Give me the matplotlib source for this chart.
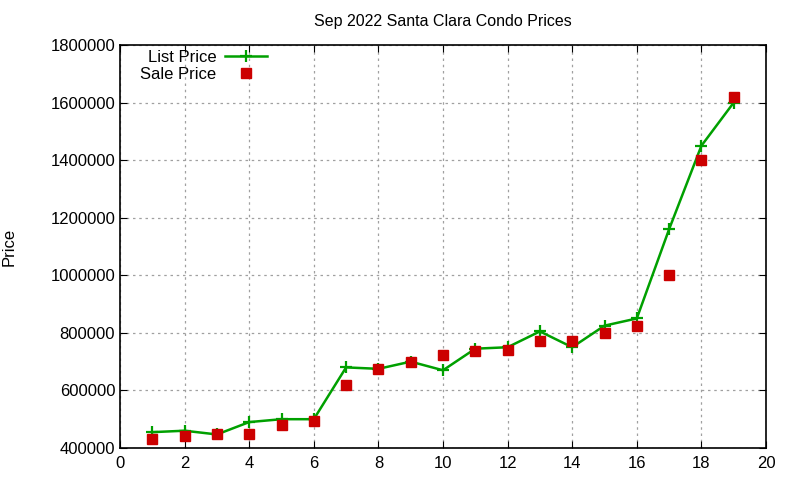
import matplotlib.pyplot as plt
from matplotlib.ticker import MultipleLocator

plt.rcParams['font.family'] = ['Liberation Sans', 'DejaVu Sans']

idx = list(range(1, 20))
list_price = [455000, 460000, 447000, 490000, 500000, 500000, 680000, 675000, 700000, 670000,
              745000, 750000, 805000, 750000, 825000, 850000, 1160000, 1450000, 1600000]
sale_price = [430000, 440000, 448000, 448000, 480000, 495000, 620000, 675000, 700000, 722000,
              738000, 740000, 772000, 773000, 800000, 823000, 1000000, 1402000, 1620000]

fig = plt.figure(figsize=(8, 4.8), dpi=100)
ax = fig.add_axes([0.15, 0.0667, 0.8075, 0.8395])

ax.plot(idx, list_price, color='#00a000', lw=1.8, marker='+', ms=9, mew=1.6, label='List Price')
ax.plot(idx, sale_price, ls='none', color='#cc0000', marker='s', ms=6.5, label='Sale Price')

ax.set_xlim(0, 20)
ax.set_ylim(400000, 1800000)
ax.xaxis.set_major_locator(MultipleLocator(2))
ax.yaxis.set_major_locator(MultipleLocator(200000))
ax.ticklabel_format(style='plain', axis='y')
ax.tick_params(direction='in', top=True, right=True, labelsize=12, length=5)
ax.tick_params(axis='x', pad=6)
ax.grid(True, ls=(0, (2, 3)), color='#a0a0a0', lw=0.9)
for s in ax.spines.values():
    s.set_linewidth(1.2)

ax.set_title('Sep 2022 Santa Clara Condo Prices', fontsize=11.5, pad=14)
ax.set_ylabel('Price', fontsize=12, labelpad=24)

ax.legend(loc='upper left', bbox_to_anchor=(0.011, 1.02), markerfirst=False, frameon=False,
          fontsize=12, handlelength=2.5, handletextpad=0.5, labelspacing=0.1, borderpad=0.3)

plt.savefig('out.png')
